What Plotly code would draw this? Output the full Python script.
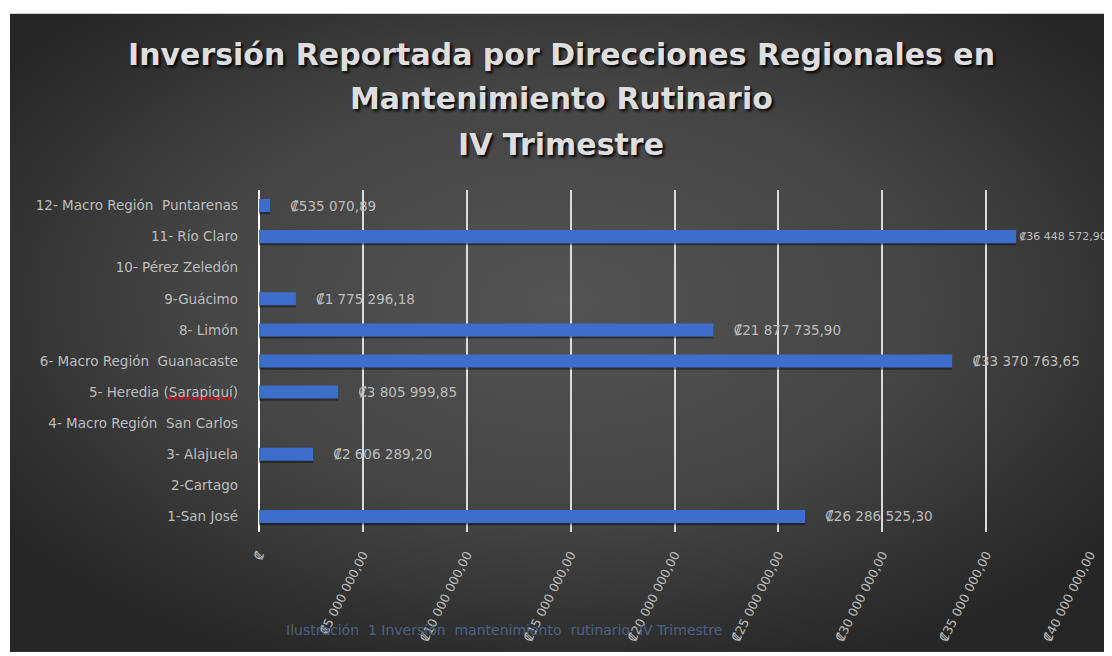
import base64
import plotly.graph_objects as go

# ---------------- data ----------------
categories = [
    "1-San José",
    "2-Cartago",
    "3- Alajuela",
    "4- Macro Región  San Carlos",
    "5- Heredia (Sarapiquí)",
    "6- Macro Región  Guanacaste",
    "8- Limón",
    "9-Guácimo",
    "10- Pérez Zeledón",
    "11- Río Claro",
    "12- Macro Región  Puntarenas",
]
values = [
    26286525.30,
    None,
    2606289.20,
    None,
    3805999.85,
    33370763.65,
    21877735.90,
    1775296.18,
    None,
    36448572.90,
    535070.89,
]
tick_values = [0, 5e6, 10e6, 15e6, 20e6, 25e6, 30e6, 35e6, 40e6]
tick_labels = [
    "₡",
    "₡5 000 000,00",
    "₡10 000 000,00",
    "₡15 000 000,00",
    "₡20 000 000,00",
    "₡25 000 000,00",
    "₡30 000 000,00",
    "₡35 000 000,00",
    "₡40 000 000,00",
]
title_lines = [
    "Inversión Reportada por Direcciones Regionales en",
    "Mantenimiento Rutinario",
    "IV Trimestre",
]
caption = "Ilustración  1 Inversión  mantenimiento  rutinario  IV Trimestre"

# ---------------- geometry (page pixels; page has an 8px body margin) ----------------
OFF = 8
W, H = 1112 - OFF, 656 - OFF
L, R, T, B = 259, 1090, 190, 535  # plot area in page pixels


def px_x(p):
    return (p - L) / (R - L)


def px_y(p):
    return (B - p) / (B - T)


def fmt(v):
    s = f"{v:,.2f}"
    s = s.replace(",", " ").replace(".", ",")
    return "₡" + s


FONT = "DejaVu Sans"
LABEL_COLOR = "#bdbdbd"
LABEL_SIZE = 13.5

pad = "\u00a0" * 4
texts, text_sizes = [], []
for v in values:
    if v is None:
        texts.append("")
        text_sizes.append(LABEL_SIZE)
    elif v > 35e6:
        # label near the right edge: no gap, slightly smaller so it fits
        texts.append(fmt(v))
        text_sizes.append(11)
    else:
        texts.append(pad + fmt(v))
        text_sizes.append(LABEL_SIZE)

fig = go.Figure()

# bar shadow
fig.add_trace(go.Bar(
    y=categories, x=values, orientation="h",
    width=0.42, offset=-0.28,
    marker=dict(color="rgba(0,0,0,0.40)", line=dict(width=0)),
    hoverinfo="skip", showlegend=False,
))
# bars
fig.add_trace(go.Bar(
    y=categories, x=values, orientation="h",
    width=0.42, offset=-0.21,
    marker=dict(color="#3d6ecc", line=dict(width=0)),
    text=texts, textposition="outside", cliponaxis=False,
    constraintext="none",
    textfont=dict(family=FONT, size=text_sizes, color=LABEL_COLOR),
    showlegend=False,
))

# background gradient image
svg = (
    '<svg xmlns="http://www.w3.org/2000/svg" width="1102" height="644" '
    'preserveAspectRatio="none" viewBox="0 0 1102 644">'
    '<defs><radialGradient id="g" cx="50%" cy="45%" r="62%">'
    '<stop offset="0" stop-color="#545454"/>'
    '<stop offset="0.55" stop-color="#444444"/>'
    '<stop offset="1" stop-color="#262626"/>'
    '</radialGradient></defs>'
    '<rect width="1102" height="644" fill="url(#g)"/></svg>'
)
src = "data:image/svg+xml;base64," + base64.b64encode(svg.encode()).decode()

annotations = []
title_y = [53, 98, 144]
for line, yy in zip(title_lines, title_y):
    annotations.append(dict(
        text="<b>" + line + "</b>", x=px_x(561), y=px_y(yy),
        xref="paper", yref="paper", xanchor="center", yanchor="middle",
        showarrow=False,
        font=dict(family=FONT, size=30, color="#dedede",
                  shadow="2px 2px 3px #000000"),
    ))
annotations.append(dict(
    text=caption, x=px_x(284), y=px_y(634),
    xref="paper", yref="paper", xanchor="left", yanchor="middle",
    showarrow=False,
    font=dict(family=FONT, size=14, color="#4a6285"),
))

fig.update_layout(
    width=W, height=H,
    margin=dict(l=L - OFF, r=W - (R - OFF), t=T - OFF, b=H - (B - OFF), pad=0),
    paper_bgcolor="#ffffff",
    plot_bgcolor="rgba(0,0,0,0)",
    barmode="overlay",
    annotations=annotations,
    images=[dict(
        source=src, xref="paper", yref="paper",
        x=px_x(10), y=px_y(12),
        sizex=(1112 - 10) / (R - L), sizey=(656 - 12) / (B - T),
        xanchor="left", yanchor="top", sizing="stretch", layer="below",
    )],
    shapes=[dict(
        type="line", xref="paper", yref="paper",
        x0=px_x(168), x1=px_x(234), y0=px_y(400), y1=px_y(400),
        line=dict(color="#ff0000", width=2, dash="dot"),
    )],
    xaxis=dict(
        range=[0, 40e6], tickvals=tick_values, ticktext=tick_labels,
        tickangle=-63, showgrid=True, gridcolor="rgba(235,235,235,0.9)",
        gridwidth=2, zeroline=True, zerolinecolor="#ffffff", zerolinewidth=2,
        showline=False, ticks="", ticklabelstandoff=12,
        tickfont=dict(family=FONT, size=12.5, color=LABEL_COLOR),
        fixedrange=True,
    ),
    yaxis=dict(
        categoryorder="array", categoryarray=categories,
        showgrid=False, zeroline=False, showline=False, ticks="",
        ticklabelstandoff=20,
        tickfont=dict(family=FONT, size=13.5, color=LABEL_COLOR),
        fixedrange=True,
    ),
)

fig.write_html("out.html")
